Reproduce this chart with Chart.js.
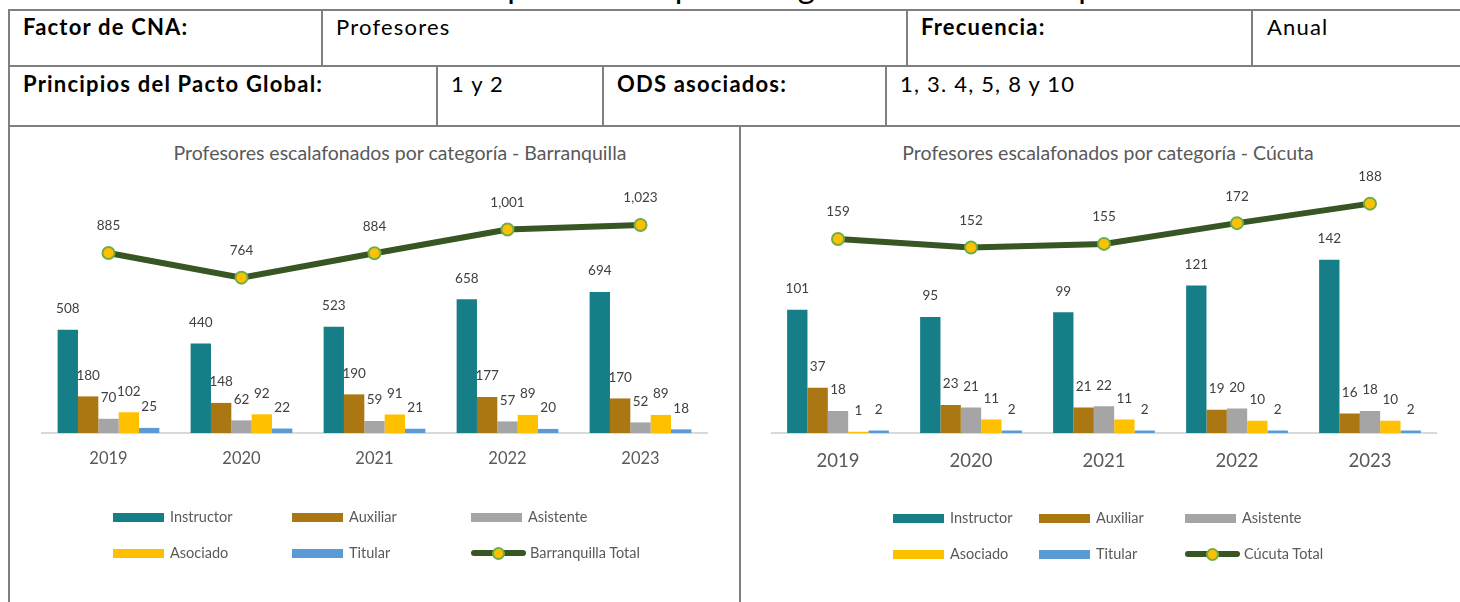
<!DOCTYPE html>
<html lang="es">
<head>
<meta charset="utf-8">
<title>Profesores escalafonados por categoría</title>
<script src="https://cdn.jsdelivr.net/npm/chart.js@4.4.1/dist/chart.umd.min.js"></script>
<style>
  html, body { margin: 0; padding: 0; background: #fff; }
  body { width: 1460px; height: 602px; position: relative; overflow: hidden; font-family: Lato, "Open Sans", sans-serif; }
  .ln { position: absolute; background: #7f7f7f; }
  .cell { position: absolute; font-size: 22px; line-height: 26px; letter-spacing: 1.2px; color: #000; white-space: nowrap; }
  .cell.b { font-weight: bold; }
  .head { position: absolute; top: -31px; left: 0; width: 1354px; text-align: center; font-size: 33px; line-height: 33px; letter-spacing: 0.6px; color: #000; white-space: nowrap; }
  .ttl { position: absolute; top: 141px; font-size: 19.5px; line-height: 24px; color: #595959; white-space: nowrap; transform: translateX(-50%); }
  canvas { position: absolute; }
  .lg { position: absolute; font-size: 14.5px; line-height: 17px; color: #595959; white-space: nowrap; }
  .sw { position: absolute; height: 9px; }
</style>
</head>
<body>
<div class="head">Indicador 11: Número de profesores por categoría de escalafón profesoral</div>

<!-- table frame -->
<div class="ln" style="left:8px; top:9px; width:1460px; height:2px"></div>
<div class="ln" style="left:8px; top:65px; width:1460px; height:2px"></div>
<div class="ln" style="left:8px; top:125px; width:1460px; height:2px"></div>
<div class="ln" style="left:8px; top:9px; width:2px; height:600px"></div>
<div class="ln" style="left:321px; top:9px; width:2px; height:57px"></div>
<div class="ln" style="left:906px; top:9px; width:2px; height:57px"></div>
<div class="ln" style="left:1251px; top:9px; width:2px; height:57px"></div>
<div class="ln" style="left:436px; top:65px; width:2px; height:61px"></div>
<div class="ln" style="left:602px; top:65px; width:2px; height:61px"></div>
<div class="ln" style="left:885px; top:65px; width:2px; height:61px"></div>
<div class="ln" style="left:739px; top:125px; width:2px; height:480px"></div>

<div class="cell b" style="left:23px; top:14px">Factor de CNA:</div>
<div class="cell" style="left:336px; top:14px">Profesores</div>
<div class="cell b" style="left:921px; top:14px">Frecuencia:</div>
<div class="cell" style="left:1267px; top:14px">Anual</div>
<div class="cell b" style="left:23px; top:71px">Principios del Pacto Global:</div>
<div class="cell" style="left:451px; top:71px">1 y 2</div>
<div class="cell b" style="left:617px; top:71px">ODS asociados:</div>
<div class="cell" style="left:900px; top:71px">1, 3. 4, 5, 8 y 10</div>

<div class="ttl" style="left:400px">Profesores escalafonados por categoría - Barranquilla</div>
<div class="ttl" style="left:1108px">Profesores escalafonados por categoría - Cúcuta</div>

<canvas id="chartBaq" width="729" height="475" style="left:10px; top:127px"></canvas>
<canvas id="chartCuc" width="719" height="475" style="left:741px; top:127px"></canvas>
<div id="legendBaq"></div>
<div id="legendCuc"></div>

<script>
const years = ['2019', '2020', '2021', '2022', '2023'];
const categorias = ['Instructor', 'Auxiliar', 'Asistente', 'Asociado', 'Titular'];
const colores = ['#167E86', '#AB7712', '#A5A5A5', '#FFC000', '#5B9BD5'];

// Barranquilla
const baqInstructor = [508, 440, 523, 658, 694];
const baqAuxiliar = [180, 148, 190, 177, 170];
const baqAsistente = [70, 62, 59, 57, 52];
const baqAsociado = [102, 92, 91, 89, 89];
const baqTitular = [25, 22, 21, 20, 18];
const baqTotal = [885, 764, 884, 1001, 1023];

// Cúcuta
const cucInstructor = [101, 95, 99, 121, 142];
const cucAuxiliar = [37, 23, 21, 19, 16];
const cucAsistente = [18, 21, 22, 20, 18];
const cucAsociado = [1, 11, 11, 10, 10];
const cucTitular = [2, 2, 2, 2, 2];
const cucTotal = [159, 152, 155, 172, 188];

const LINE_COLOR = '#375623';
const MARKER_FILL = '#FFC000';
const MARKER_EDGE = '#70AD47';

// value labels above bars and points (no datalabels plugin available)
const valueLabels = {
  id: 'valueLabels',
  afterDatasetsDraw(chart) {
    const ctx = chart.ctx;
    ctx.save();
    ctx.font = '13.5px Lato';
    ctx.fillStyle = '#404040';
    ctx.textAlign = 'center';
    ctx.textBaseline = 'middle';
    chart.data.datasets.forEach((ds, i) => {
      const meta = chart.getDatasetMeta(i);
      const lift = ds.type === 'line' ? 27 : 21;
      meta.data.forEach((el, j) => {
        ctx.fillText(ds.data[j].toLocaleString('en-US'), el.x, el.y - lift);
      });
    });
    ctx.restore();
  }
};

const makeChart = (id, series, total, totalLabel, opts) => {
  const datasets = categorias.map((name, k) => ({
    type: 'bar',
    label: name,
    data: series[k],
    backgroundColor: colores[k],
    borderWidth: 0,
    categoryPercentage: 0.765,
    barPercentage: 1,
    order: 1
  }));
  datasets.push({
    type: 'line',
    label: totalLabel,
    data: total,
    borderColor: LINE_COLOR,
    borderWidth: 6,
    pointRadius: 6,
    pointBorderWidth: 2,
    pointBackgroundColor: MARKER_FILL,
    pointBorderColor: MARKER_EDGE,
    tension: 0,
    order: 0
  });
  return new Chart(document.getElementById(id), {
    data: { labels: years, datasets: datasets },
    options: {
      responsive: false,
      animation: false,
      layout: { padding: { top: 62, left: opts.left, right: opts.right, bottom: 0 } },
      plugins: { legend: { display: false }, tooltip: { enabled: false }, title: { display: false } },
      scales: {
        x: {
          grid: { display: false, drawTicks: false },
          border: { display: true, color: '#D9D9D9', width: 2 },
          ticks: { color: '#595959', font: { family: 'Lato', size: opts.tickSize }, padding: opts.tickPad },
          afterFit(scale) { scale.height = 169; }
        },
        y: { display: false, min: 0, max: opts.max }
      }
    },
    plugins: [valueLabels]
  });
};

const drawLegend = (chart, hostId, cols, rows) => {
  const host = document.getElementById(hostId);
  chart.data.datasets.forEach((ds, i) => {
    const x = cols[i % 3];
    const y = rows[Math.floor(i / 3)];
    if (ds.type === 'line') {
      host.insertAdjacentHTML('beforeend',
        `<div class="sw" style="left:${x}px; top:${y - 3}px; width:55px; height:6px; border-radius:3px; background:${ds.borderColor}"></div>` +
        `<div class="sw" style="left:${x + 21}px; top:${y - 6}px; width:9px; height:9px; border-radius:50%; background:${ds.pointBackgroundColor}; border:2px solid ${ds.pointBorderColor}"></div>` +
        `<div class="lg" style="left:${x + 59}px; top:${y - 9}px">${ds.label}</div>`);
    } else {
      host.insertAdjacentHTML('beforeend',
        `<div class="sw" style="left:${x}px; top:${y - 4}px; width:51px; background:${ds.backgroundColor}"></div>` +
        `<div class="lg" style="left:${x + 57}px; top:${y - 9}px">${ds.label}</div>`);
    }
  });
};

const chartBaq = makeChart('chartBaq',
  [baqInstructor, baqAuxiliar, baqAsistente, baqAsociado, baqTitular],
  baqTotal, 'Barranquilla Total',
  { left: 32, right: 32, max: 1200, tickSize: 16.5, tickPad: 16 });

const chartCuc = makeChart('chartCuc',
  [cucInstructor, cucAuxiliar, cucAsistente, cucAsociado, cucTitular],
  cucTotal, 'Cúcuta Total',
  { left: 30.5, right: 23.5, max: 200, tickSize: 18.5, tickPad: 17 });

drawLegend(chartBaq, 'legendBaq', [113, 292, 471], [517, 553]);
drawLegend(chartCuc, 'legendCuc', [893, 1039, 1185], [518, 554]);
</script>
</body>
</html>
